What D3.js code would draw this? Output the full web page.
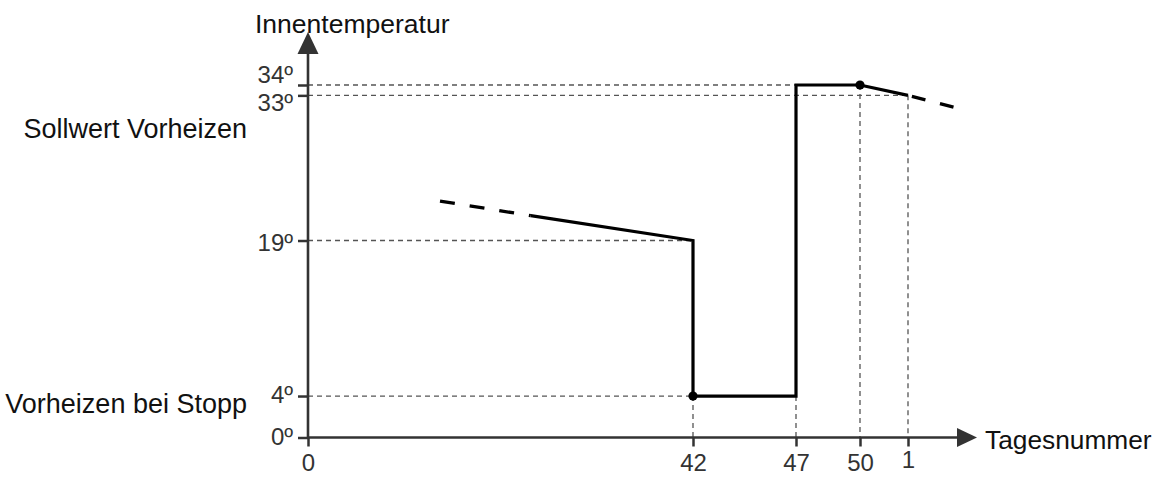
<!DOCTYPE html>
<html><head><meta charset="utf-8">
<script src="https://cdn.jsdelivr.net/npm/d3@7"></script>
<style>
html,body{margin:0;padding:0;background:#fff;}
svg{display:block;font-family:"Liberation Sans",Arial,sans-serif;}
</style></head>
<body>
<svg id="chart" width="1157" height="477"></svg>
<script>
// ---- data ----
const xTickValues = [0, 42, 47, 50, 51];
const xTickLabels = ["0", "42", "47", "50", "1"];
const yTickValues = [0, 4, 19, 33, 34];
const yTickLabels = ["0º", "4º", "19º", "33º", "34º"];
const leadInDays  = [14.4, 24.3];
const leadInTemps = [22.8, 21.4];
const mainDays  = [24.3, 42, 42, 47, 47, 50, 51];
const mainTemps = [21.4, 19, 4, 4, 34, 34, 33];
const tailDays  = [51, 52.0];
const tailTemps = [33, 31.8];
const dotDays  = [42, 50];
const dotTemps = [4, 34];
// guide lines: [day, temp] of reference points
const guideHDays  = [42, 42, 50, 51];
const guideHTemps = [4, 19, 34, 33];
const guideVDays  = [42, 47, 50, 51];
const guideVTemps = [4, 4, 34, 33];
const yAxisTitle = "Innentemperatur";
const xAxisTitle = "Tagesnummer";
const sideLabels = ["Sollwert Vorheizen", "Vorheizen bei Stopp"];

// ---- scales ----
const svg = d3.select("#chart");
const x = d3.scaleLinear().domain(xTickValues).range([308, 693, 796, 860, 908]);
const y = d3.scaleLinear().domain([0, 34]).range([437.5, 85]);
const axisColor = "#333";

// guides
const g = svg.append("g").attr("stroke", "#555").attr("stroke-width", 1.3)
  .attr("stroke-dasharray", "5,4").attr("fill", "none");
guideHDays.forEach((d, i) => {
  g.append("line").attr("x1", x(0)).attr("x2", x(d))
    .attr("y1", y(guideHTemps[i])).attr("y2", y(guideHTemps[i]));
});
guideVDays.forEach((d, i) => {
  g.append("line").attr("x1", x(d)).attr("x2", x(d))
    .attr("y1", y(guideVTemps[i])).attr("y2", y(0));
});

// axes
const yDy = {0: "0.31em", 4: "0.29em", 19: "0.4em", 33: "0.61em", 34: "-0.1em"};
const yAxis = d3.axisLeft(y).tickValues(yTickValues)
  .tickFormat((d, i) => yTickLabels[i]).tickSizeInner(10).tickSizeOuter(0).tickPadding(5);
const ya = svg.append("g").attr("transform", `translate(${x(0)},0)`).call(yAxis);
ya.select(".domain").remove();
ya.selectAll(".tick line").attr("stroke", axisColor).attr("stroke-width", 2.5);
ya.selectAll(".tick text").attr("fill", axisColor).attr("font-size", 24)
  .attr("font-family", "Liberation Sans, Arial, sans-serif")
  .attr("dy", d => yDy[d]);

const xAxis = d3.axisBottom(x).tickValues(xTickValues)
  .tickFormat((d, i) => xTickLabels[i]).tickSizeInner(9).tickSizeOuter(0).tickPadding(7);
const xa = svg.append("g").attr("transform", `translate(0,${y(0)})`).call(xAxis);
xa.select(".domain").remove();
xa.selectAll(".tick line").attr("stroke", axisColor).attr("stroke-width", 2.5);
xa.selectAll(".tick text").attr("fill", axisColor).attr("font-size", 24)
  .attr("font-family", "Liberation Sans, Arial, sans-serif")
  .attr("dy", d => d === 51 ? "0.6em" : "0.71em");

// axis lines with arrows
svg.append("line").attr("x1", x(0)).attr("x2", x(0)).attr("y1", y(0) + 1).attr("y2", 52)
  .attr("stroke", axisColor).attr("stroke-width", 2.6);
svg.append("path").attr("d", `M${x(0)},32 L${x(0) - 10.5},54 L${x(0) + 10.5},54 Z`).attr("fill", axisColor);
svg.append("line").attr("x1", x(0) - 1).attr("x2", 960).attr("y1", y(0)).attr("y2", y(0))
  .attr("stroke", axisColor).attr("stroke-width", 2.6);
svg.append("path").attr("d", `M977,${y(0)} L957,${y(0) - 9.5} L957,${y(0) + 9.5} Z`).attr("fill", axisColor);

// series
const line = d3.line().x(d => x(d[0])).y(d => y(d[1]));
svg.append("path").datum(leadInDays.map((d, i) => [d, leadInTemps[i]]))
  .attr("d", line).attr("fill", "none").attr("stroke", "#000").attr("stroke-width", 3.3)
  .attr("stroke-dasharray", "15,15");
svg.append("path").datum(mainDays.map((d, i) => [d, mainTemps[i]]))
  .attr("d", line).attr("fill", "none").attr("stroke", "#000").attr("stroke-width", 3.2)
  .attr("stroke-linejoin", "miter");
svg.append("path").datum(tailDays.map((d, i) => [d, tailTemps[i]]))
  .attr("d", line).attr("fill", "none").attr("stroke", "#000").attr("stroke-width", 3.3)
  .attr("stroke-dasharray", "0,4,14,15,14,40");
svg.selectAll("circle.dot").data(dotDays).join("circle").attr("class", "dot")
  .attr("cx", d => x(d)).attr("cy", (d, i) => y(dotTemps[i])).attr("r", 4.6).attr("fill", "#000");

// labels
svg.append("text").attr("x", 255).attr("y", 33).attr("font-size", 26.5).attr("fill", "#111").text(yAxisTitle);
svg.append("text").attr("x", 985).attr("y", 449).attr("font-size", 26.3).attr("fill", "#111").text(xAxisTitle);
svg.append("text").attr("x", 247).attr("y", 138).attr("text-anchor", "end").attr("font-size", 27).attr("fill", "#111").text(sideLabels[0]);
svg.append("text").attr("x", 247).attr("y", 413).attr("text-anchor", "end").attr("font-size", 27).attr("fill", "#111").text(sideLabels[1]);
</script>
</body></html>
